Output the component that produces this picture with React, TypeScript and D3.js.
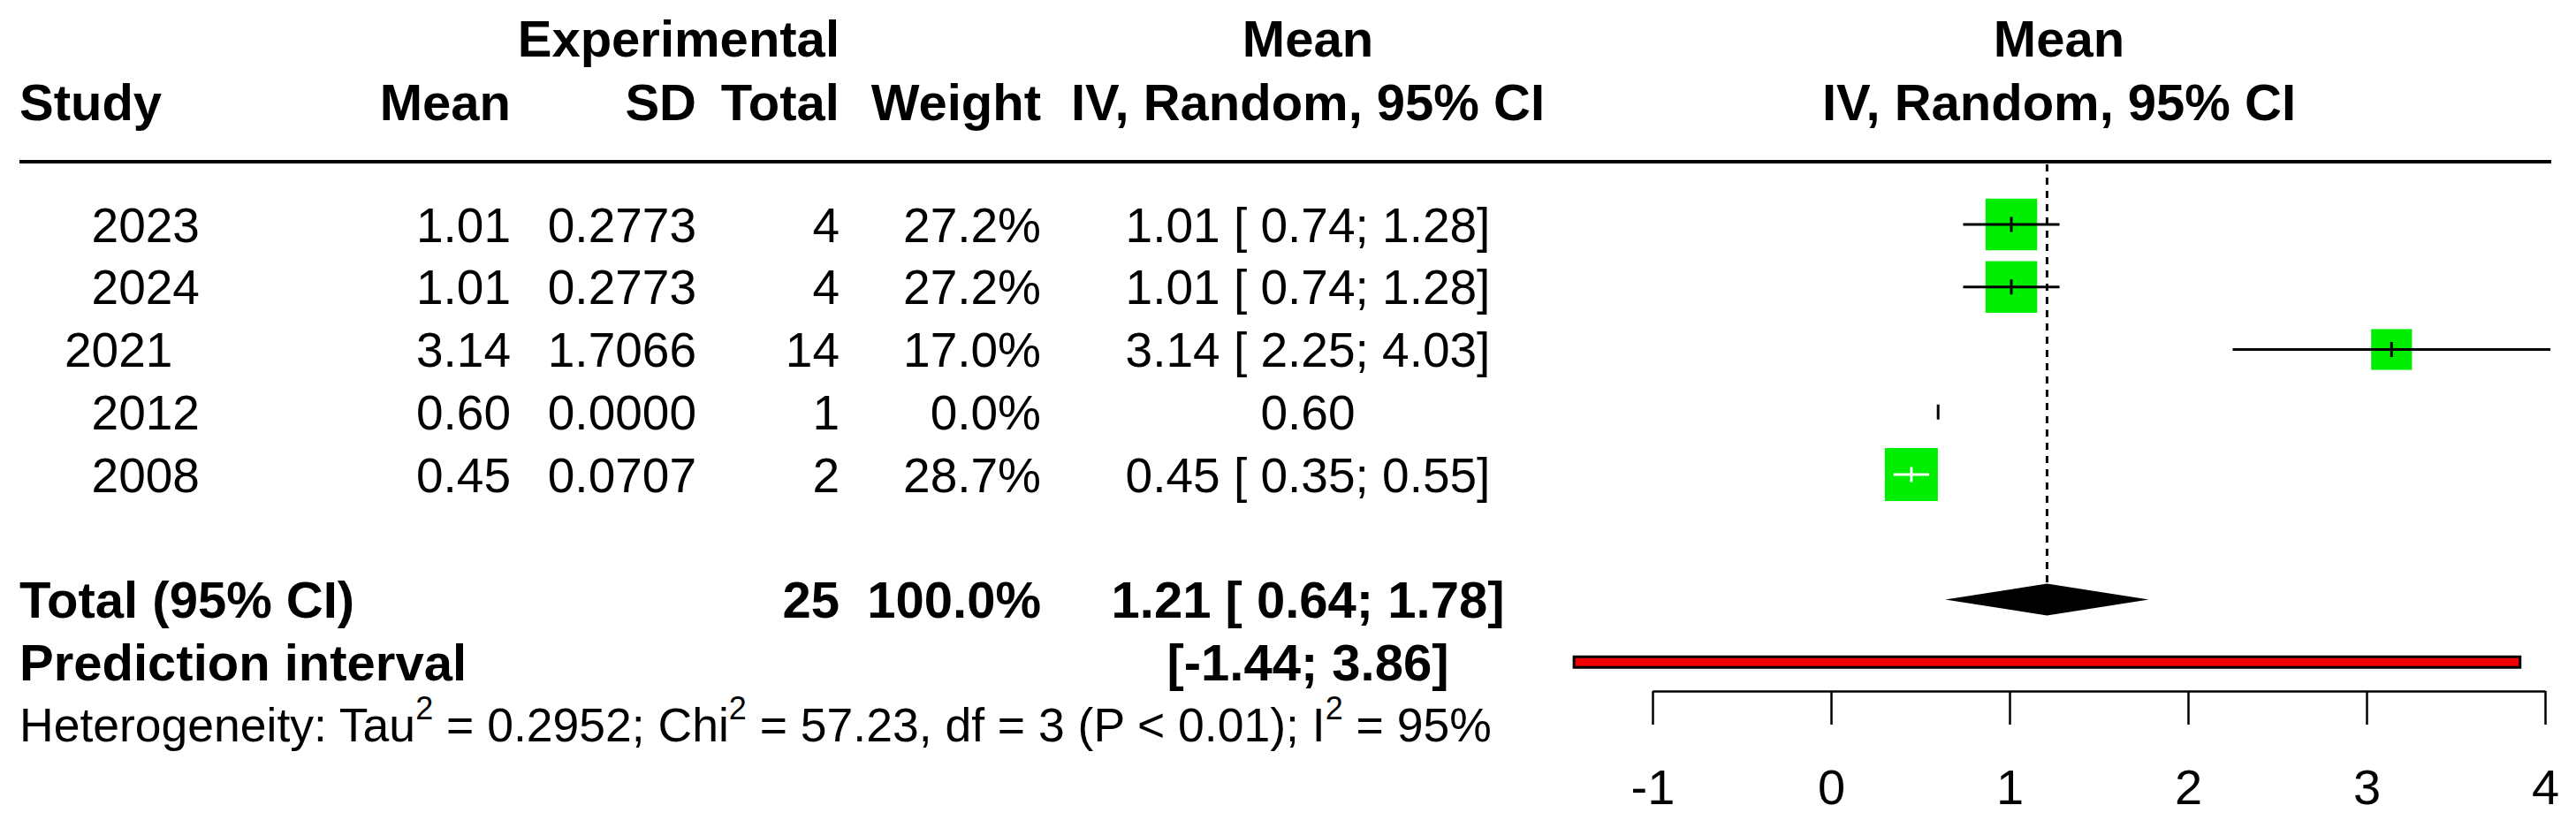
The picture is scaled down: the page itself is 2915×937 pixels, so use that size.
// Forest plot (meta-analysis of means) drawn with D3
import React, { useEffect, useRef } from 'react';
import * as d3 from 'd3';

// Studies, as in the original table (labels keep their leading spaces)
const studies = ['  2023', '  2024', '2021', '  2012', '  2008'];
const means = [1.01, 1.01, 3.14, 0.6, 0.45];
const sds = [0.2773, 0.2773, 1.7066, 0.0, 0.0707];
const totals = [4, 4, 14, 1, 2];
const weights = [27.2, 27.2, 17.0, 0.0, 28.7];
const ciLower: (number | null)[] = [0.74, 0.74, 2.25, null, 0.35];
const ciUpper: (number | null)[] = [1.28, 1.28, 4.03, null, 0.55];

// Pooled random-effects estimate and prediction interval
const pooled = [1.21, 0.64, 1.78]; // mean, lower, upper
const prediction = [-1.44, 3.86];
const totalN = 25;
const totalWeight = 100.0;

// Heterogeneity statistics
const tau2 = '0.2952';
const chi2 = '57.23';
const df = 3;
const pText = '< 0.01';
const i2 = '95%';

const xTicks = [-1, 0, 1, 2, 3, 4];

const W = 2915;
const H = 937;
const FONT = "'Liberation Sans', Arial, Helvetica, sans-serif";
const FS = 55; // regular text
const FB = 58; // bold text
const FH = 53.5; // heterogeneity line

const fmtLo = (v: number) => v.toFixed(2).padStart(5, ' ');
const ciText = (m: number, lo: number | null, hi: number | null) =>
  lo == null || hi == null ? m.toFixed(2) : `${m.toFixed(2)} [${fmtLo(lo)}; ${hi.toFixed(2)}]`;

const App: React.FC = () => {
  const svgRef = useRef<SVGSVGElement>(null);

  useEffect(() => {
    if (!svgRef.current) return;
    const svg = d3.select(svgRef.current);
    svg.selectAll('*').remove();

    // Scales
    const x = d3.scaleLinear().domain([-1, 4]).range([1870, 2880]);
    const yRow = d3.scaleLinear().domain([0, 8]).range([254, 820]);
    const side = d3.scaleSqrt().domain([0, d3.max(weights) as number]).range([0, 60]);

    const g = svg.append('g').attr('font-family', FONT).attr('fill', '#000');

    const txt = (s: string, px: number, py: number, anchor: string, bold: boolean) =>
      g.append('text')
        .attr('x', px)
        .attr('y', py)
        .attr('text-anchor', anchor)
        .attr('font-size', bold ? FB : FS)
        .attr('font-weight', bold ? 'bold' : 'normal')
        .style('white-space', 'pre')
        .text(s);

    // Шапка таблицы
    txt('Experimental', 950, 64, 'end', true);
    txt('Mean', 1480, 64, 'middle', true);
    txt('Mean', 2330, 64, 'middle', true);
    txt('Study', 22, 136, 'start', true);
    txt('Mean', 578, 136, 'end', true);
    txt('SD', 788, 136, 'end', true);
    txt('Total', 950, 136, 'end', true);
    txt('Weight', 1178, 136, 'end', true);
    txt('IV, Random, 95% CI', 1480, 136, 'middle', true);
    txt('IV, Random, 95% CI', 2330, 136, 'middle', true);

    g.append('line')
      .attr('x1', 22).attr('x2', 2887)
      .attr('y1', 183).attr('y2', 183)
      .attr('stroke', '#000').attr('stroke-width', 4);

    // Строки исследований
    const off = 0.358 * FS;
    studies.forEach((s, i) => {
      const by = yRow(i) + off;
      txt(s, 73, by, 'start', false);
      txt(means[i].toFixed(2), 578, by, 'end', false);
      txt(sds[i].toFixed(4), 788, by, 'end', false);
      txt(String(totals[i]), 950, by, 'end', false);
      txt(`${weights[i].toFixed(1)}%`, 1178, by, 'end', false);
      txt(ciText(means[i], ciLower[i], ciUpper[i]), 1480, by, 'middle', false);
    });

    // Итоговая строка
    const offB = 0.358 * FB;
    txt('Total (95% CI)', 22, yRow(6) + offB, 'start', true);
    txt(String(totalN), 950, yRow(6) + offB, 'end', true);
    txt(`${totalWeight.toFixed(1)}%`, 1178, yRow(6) + offB, 'end', true);
    txt(ciText(pooled[0], pooled[1], pooled[2]), 1480, yRow(6) + offB, 'middle', true);
    txt('Prediction interval', 22, yRow(7) + offB, 'start', true);
    txt(`[${prediction[0].toFixed(2)}; ${prediction[1].toFixed(2)}]`, 1480, yRow(7) + offB, 'middle', true);

    // Heterogeneity with superscripts
    const het = g.append('text')
      .attr('x', 22)
      .attr('y', yRow(8) + 0.358 * FH)
      .attr('font-size', FH)
      .style('white-space', 'pre');
    const sup = (t: string) => {
      het.append('tspan').attr('font-size', 36).attr('dy', -25).text(t);
    };
    het.append('tspan').text('Heterogeneity: Tau');
    sup('2');
    het.append('tspan').attr('dy', 25).text(` = ${tau2}; Chi`);
    sup('2');
    het.append('tspan').attr('dy', 25).text(` = ${chi2}, df = ${df} (P ${pText}); I`);
    sup('2');
    het.append('tspan').attr('dy', 25).text(` = ${i2}`);

    // Лес: вертикальная пунктирная линия на объединённой оценке
    const diamondH = 18;
    g.append('line')
      .attr('x1', x(pooled[0])).attr('x2', x(pooled[0]))
      .attr('y1', 186).attr('y2', yRow(6) - diamondH)
      .attr('stroke', '#000').attr('stroke-width', 3)
      .attr('stroke-dasharray', '8 7');

    const rows = d3.range(studies.length);

    // Квадраты (площадь ~ вес)
    g.selectAll('.sq')
      .data(rows.filter((i) => weights[i] > 0))
      .enter()
      .append('rect')
      .attr('class', 'sq')
      .attr('x', (i) => x(means[i]) - side(weights[i]) / 2)
      .attr('y', (i) => yRow(i) - side(weights[i]) / 2)
      .attr('width', (i) => side(weights[i]))
      .attr('height', (i) => side(weights[i]))
      .attr('fill', '#00ee00');

    // Цвет линии ДИ: белая, если помещается внутри квадрата
    const lineCol = (i: number) => {
      const lo = ciLower[i];
      const hi = ciUpper[i];
      if (lo == null || hi == null) return '#000';
      return x(hi) - x(lo) < side(weights[i]) ? '#fff' : '#000';
    };

    g.selectAll('.ci')
      .data(rows.filter((i) => ciLower[i] != null))
      .enter()
      .append('line')
      .attr('class', 'ci')
      .attr('x1', (i) => x(ciLower[i] as number))
      .attr('x2', (i) => x(ciUpper[i] as number))
      .attr('y1', (i) => yRow(i))
      .attr('y2', (i) => yRow(i))
      .attr('stroke', lineCol)
      .attr('stroke-width', 3);

    g.selectAll('.mk')
      .data(rows)
      .enter()
      .append('line')
      .attr('class', 'mk')
      .attr('x1', (i) => x(means[i]))
      .attr('x2', (i) => x(means[i]))
      .attr('y1', (i) => yRow(i) - 8.5)
      .attr('y2', (i) => yRow(i) + 8.5)
      .attr('stroke', lineCol)
      .attr('stroke-width', 3);

    // Ромб объединённой оценки
    const yd = yRow(6);
    g.append('path')
      .attr('d', `M${x(pooled[1])},${yd}L${x(pooled[0])},${yd - diamondH}L${x(pooled[2])},${yd}L${x(pooled[0])},${yd + diamondH}Z`)
      .attr('fill', '#000');

    // Интервал предсказания
    g.append('rect')
      .attr('x', x(prediction[0]))
      .attr('y', yRow(7) - 6)
      .attr('width', x(prediction[1]) - x(prediction[0]))
      .attr('height', 12)
      .attr('fill', '#f00000')
      .attr('stroke', '#000')
      .attr('stroke-width', 3);

    // Ось X
    const axis = d3.axisBottom(x)
      .tickValues(xTicks)
      .tickSize(38)
      .tickSizeOuter(0)
      .tickPadding(50)
      .tickFormat((d) => String(d));
    const ax = g.append('g')
      .attr('transform', 'translate(0,782)')
      .call(axis);
    ax.attr('font-size', 56).attr('font-family', FONT);
    ax.select('.domain').attr('stroke-width', 2.5);
    ax.selectAll('.tick line').attr('stroke-width', 2.5);
    ax.selectAll('.tick text').attr('fill', '#000');
  }, []);

  return (
    <div style={{ position: 'absolute', left: 0, top: 0, background: '#fff' }}>
      <svg ref={svgRef} width={W} height={H} style={{ display: 'block' }} />
    </div>
  );
};

export default App;
